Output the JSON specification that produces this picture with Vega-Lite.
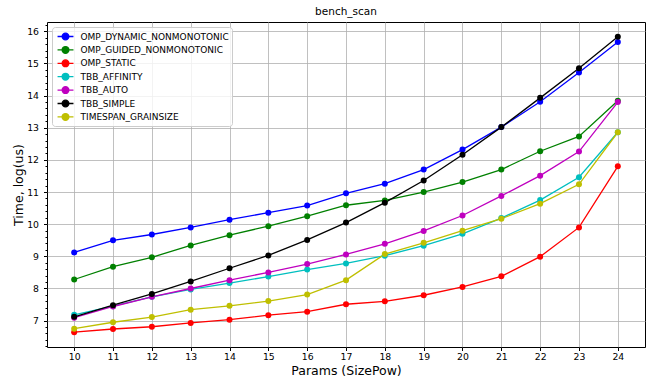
{
  "$schema": "https://vega.github.io/schema/vega-lite/v6.json",
  "width": 598,
  "height": 325,
  "autosize": {"type": "none"},
  "padding": {"left": 47, "top": 22, "right": 2, "bottom": 34},
  "background": "white",
  "config": {
    "font": "DejaVu Sans",
    "view": {"stroke": "black", "strokeWidth": 1}
  },
  "title": {"text": "bench_scan", "fontSize": 10.5, "fontWeight": "normal", "font": "DejaVu Sans", "color": "black", "offset": 3, "anchor": "middle", "frame": "group"},
  "data": {"values": [
    {"p":10,"s":"OMP_DYNAMIC_NONMONOTONIC","t":9.12},{"p":11,"s":"OMP_DYNAMIC_NONMONOTONIC","t":9.50},{"p":12,"s":"OMP_DYNAMIC_NONMONOTONIC","t":9.68},{"p":13,"s":"OMP_DYNAMIC_NONMONOTONIC","t":9.90},{"p":14,"s":"OMP_DYNAMIC_NONMONOTONIC","t":10.14},{"p":15,"s":"OMP_DYNAMIC_NONMONOTONIC","t":10.36},{"p":16,"s":"OMP_DYNAMIC_NONMONOTONIC","t":10.58},{"p":17,"s":"OMP_DYNAMIC_NONMONOTONIC","t":10.96},{"p":18,"s":"OMP_DYNAMIC_NONMONOTONIC","t":11.26},{"p":19,"s":"OMP_DYNAMIC_NONMONOTONIC","t":11.70},{"p":20,"s":"OMP_DYNAMIC_NONMONOTONIC","t":12.32},{"p":21,"s":"OMP_DYNAMIC_NONMONOTONIC","t":13.02},{"p":22,"s":"OMP_DYNAMIC_NONMONOTONIC","t":13.81},{"p":23,"s":"OMP_DYNAMIC_NONMONOTONIC","t":14.72},{"p":24,"s":"OMP_DYNAMIC_NONMONOTONIC","t":15.67},
    {"p":10,"s":"OMP_GUIDED_NONMONOTONIC","t":8.28},{"p":11,"s":"OMP_GUIDED_NONMONOTONIC","t":8.68},{"p":12,"s":"OMP_GUIDED_NONMONOTONIC","t":8.97},{"p":13,"s":"OMP_GUIDED_NONMONOTONIC","t":9.34},{"p":14,"s":"OMP_GUIDED_NONMONOTONIC","t":9.66},{"p":15,"s":"OMP_GUIDED_NONMONOTONIC","t":9.94},{"p":16,"s":"OMP_GUIDED_NONMONOTONIC","t":10.25},{"p":17,"s":"OMP_GUIDED_NONMONOTONIC","t":10.59},{"p":18,"s":"OMP_GUIDED_NONMONOTONIC","t":10.74},{"p":19,"s":"OMP_GUIDED_NONMONOTONIC","t":11.00},{"p":20,"s":"OMP_GUIDED_NONMONOTONIC","t":11.31},{"p":21,"s":"OMP_GUIDED_NONMONOTONIC","t":11.70},{"p":22,"s":"OMP_GUIDED_NONMONOTONIC","t":12.27},{"p":23,"s":"OMP_GUIDED_NONMONOTONIC","t":12.73},{"p":24,"s":"OMP_GUIDED_NONMONOTONIC","t":13.84},
    {"p":10,"s":"OMP_STATIC","t":6.64},{"p":11,"s":"OMP_STATIC","t":6.74},{"p":12,"s":"OMP_STATIC","t":6.81},{"p":13,"s":"OMP_STATIC","t":6.93},{"p":14,"s":"OMP_STATIC","t":7.03},{"p":15,"s":"OMP_STATIC","t":7.17},{"p":16,"s":"OMP_STATIC","t":7.28},{"p":17,"s":"OMP_STATIC","t":7.51},{"p":18,"s":"OMP_STATIC","t":7.60},{"p":19,"s":"OMP_STATIC","t":7.79},{"p":20,"s":"OMP_STATIC","t":8.05},{"p":21,"s":"OMP_STATIC","t":8.38},{"p":22,"s":"OMP_STATIC","t":8.99},{"p":23,"s":"OMP_STATIC","t":9.90},{"p":24,"s":"OMP_STATIC","t":11.80},
    {"p":10,"s":"TBB_AFFINITY","t":7.18},{"p":11,"s":"TBB_AFFINITY","t":7.45},{"p":12,"s":"TBB_AFFINITY","t":7.74},{"p":13,"s":"TBB_AFFINITY","t":7.97},{"p":14,"s":"TBB_AFFINITY","t":8.17},{"p":15,"s":"TBB_AFFINITY","t":8.37},{"p":16,"s":"TBB_AFFINITY","t":8.59},{"p":17,"s":"TBB_AFFINITY","t":8.78},{"p":18,"s":"TBB_AFFINITY","t":9.02},{"p":19,"s":"TBB_AFFINITY","t":9.33},{"p":20,"s":"TBB_AFFINITY","t":9.70},{"p":21,"s":"TBB_AFFINITY","t":10.19},{"p":22,"s":"TBB_AFFINITY","t":10.75},{"p":23,"s":"TBB_AFFINITY","t":11.46},{"p":24,"s":"TBB_AFFINITY","t":12.86},
    {"p":10,"s":"TBB_AUTO","t":7.09},{"p":11,"s":"TBB_AUTO","t":7.44},{"p":12,"s":"TBB_AUTO","t":7.74},{"p":13,"s":"TBB_AUTO","t":8.00},{"p":14,"s":"TBB_AUTO","t":8.26},{"p":15,"s":"TBB_AUTO","t":8.50},{"p":16,"s":"TBB_AUTO","t":8.76},{"p":17,"s":"TBB_AUTO","t":9.06},{"p":18,"s":"TBB_AUTO","t":9.39},{"p":19,"s":"TBB_AUTO","t":9.79},{"p":20,"s":"TBB_AUTO","t":10.27},{"p":21,"s":"TBB_AUTO","t":10.88},{"p":22,"s":"TBB_AUTO","t":11.51},{"p":23,"s":"TBB_AUTO","t":12.26},{"p":24,"s":"TBB_AUTO","t":13.80},
    {"p":10,"s":"TBB_SIMPLE","t":7.12},{"p":11,"s":"TBB_SIMPLE","t":7.48},{"p":12,"s":"TBB_SIMPLE","t":7.83},{"p":13,"s":"TBB_SIMPLE","t":8.22},{"p":14,"s":"TBB_SIMPLE","t":8.63},{"p":15,"s":"TBB_SIMPLE","t":9.03},{"p":16,"s":"TBB_SIMPLE","t":9.51},{"p":17,"s":"TBB_SIMPLE","t":10.05},{"p":18,"s":"TBB_SIMPLE","t":10.67},{"p":19,"s":"TBB_SIMPLE","t":11.36},{"p":20,"s":"TBB_SIMPLE","t":12.16},{"p":21,"s":"TBB_SIMPLE","t":13.02},{"p":22,"s":"TBB_SIMPLE","t":13.93},{"p":23,"s":"TBB_SIMPLE","t":14.85},{"p":24,"s":"TBB_SIMPLE","t":15.83},
    {"p":10,"s":"TIMESPAN_GRAINSIZE","t":6.75},{"p":11,"s":"TIMESPAN_GRAINSIZE","t":6.95},{"p":12,"s":"TIMESPAN_GRAINSIZE","t":7.11},{"p":13,"s":"TIMESPAN_GRAINSIZE","t":7.34},{"p":14,"s":"TIMESPAN_GRAINSIZE","t":7.46},{"p":15,"s":"TIMESPAN_GRAINSIZE","t":7.61},{"p":16,"s":"TIMESPAN_GRAINSIZE","t":7.81},{"p":17,"s":"TIMESPAN_GRAINSIZE","t":8.26},{"p":18,"s":"TIMESPAN_GRAINSIZE","t":9.07},{"p":19,"s":"TIMESPAN_GRAINSIZE","t":9.42},{"p":20,"s":"TIMESPAN_GRAINSIZE","t":9.80},{"p":21,"s":"TIMESPAN_GRAINSIZE","t":10.17},{"p":22,"s":"TIMESPAN_GRAINSIZE","t":10.64},{"p":23,"s":"TIMESPAN_GRAINSIZE","t":11.24},{"p":24,"s":"TIMESPAN_GRAINSIZE","t":12.86}
  ]},
  "mark": {"type": "line", "strokeWidth": 1.3, "point": {"filled": true, "size": 36, "opacity": 1}},
  "encoding": {
    "x": {"field": "p", "type": "quantitative",
      "scale": {"domain": [9.3, 24.7], "nice": false, "zero": false},
      "axis": {"values": [10,11,12,13,14,15,16,17,18,19,20,21,22,23,24], "title": "Params (SizePow)", "titleFontSize": 12.5, "titleFontWeight": "normal", "titleColor": "black", "titlePadding": 3,
        "labelFontSize": 9.3, "labelColor": "black", "labelPadding": 2, "labelFlush": false, "labelOverlap": false,
        "tickSize": 3.5, "tickColor": "black", "domain": false,
        "grid": true, "gridColor": "#b0b0b0", "gridWidth": 0.8}},
    "y": {"field": "t", "type": "quantitative",
      "scale": {"domain": [6.18, 16.29], "nice": false, "zero": false},
      "axis": {"values": [6.2,6.4,6.6,6.8,7,7.2,7.4,7.6,7.8,8,8.2,8.4,8.6,8.8,9,9.2,9.4,9.6,9.8,10,10.2,10.4,10.6,10.8,11,11.2,11.4,11.6,11.8,12,12.2,12.4,12.6,12.8,13,13.2,13.4,13.6,13.8,14,14.2,14.4,14.6,14.8,15,15.2,15.4,15.6,15.8,16,16.2],
        "labelExpr": "abs(datum.value - round(datum.value)) < 0.001 ? format(datum.value, 'd') : ''",
        "title": "Time, log(us)", "titleFontSize": 12.5, "titleFontWeight": "normal", "titleColor": "black", "titlePadding": 1,
        "labelFontSize": 9.3, "labelColor": "black", "labelPadding": 5, "labelOverlap": false, "labelFlush": false,
        "tickColor": "black",
        "tickSize": {"condition": {"test": "abs(datum.value - round(datum.value)) < 0.001", "value": 3.5}, "value": 2},
        "domain": false,
        "grid": true, "gridColor": "#b0b0b0", "gridWidth": 0.8,
        "gridOpacity": {"condition": {"test": "abs(datum.value - round(datum.value)) < 0.001", "value": 1}, "value": 0}}},
    "color": {"field": "s", "type": "nominal",
      "scale": {"domain": ["OMP_DYNAMIC_NONMONOTONIC","OMP_GUIDED_NONMONOTONIC","OMP_STATIC","TBB_AFFINITY","TBB_AUTO","TBB_SIMPLE","TIMESPAN_GRAINSIZE"],
        "range": ["#0000ff","#008000","#ff0000","#00bfbf","#bf00bf","#000000","#bfbf00"]},
      "legend": {"orient": "none", "legendX": 5, "legendY": 5, "title": null,
        "symbolType": "M-1.3,0L1.3,0M-0.55,0A0.55,0.55,0,1,0,0.55,0A0.55,0.55,0,1,0,-0.55,0",
        "symbolSize": 150, "symbolStrokeWidth": 1.3,
        "labelFontSize": 9, "labelFont": "DejaVu Sans", "labelColor": "black",
        "padding": 2.5, "rowPadding": 0.4, "labelOffset": 8, "symbolOffset": 4,
        "strokeColor": "#cccccc", "fillColor": "rgba(255,255,255,0.8)", "cornerRadius": 3,
        "encode": {"symbols": {"update": {"fill": {"scale": "color", "field": "value"}, "stroke": {"scale": "color", "field": "value"}, "opacity": {"value": 1}}}}}}
  }
}
